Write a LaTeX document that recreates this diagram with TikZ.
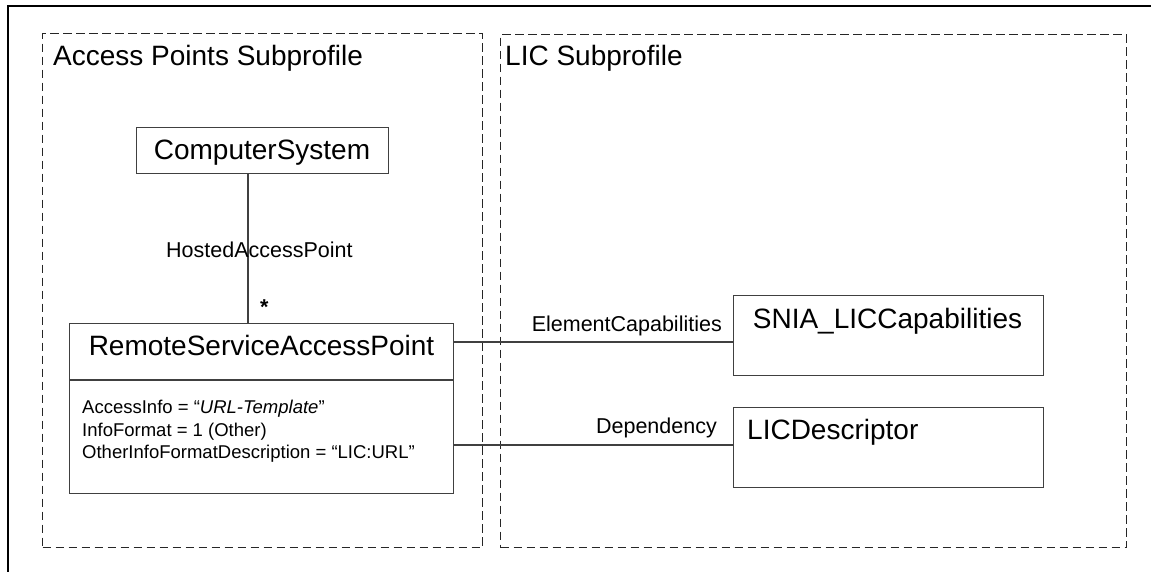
\documentclass[tikz,border=0pt]{standalone}
\usepackage{fontspec}
\setmainfont{Liberation Sans}
\begin{document}
\begin{tikzpicture}[x=1pt,y=-1pt,
  frame/.style={line width=2pt,black,line join=miter},
  group/.style={draw=black!85,line width=1.4pt,dash pattern=on 8.5pt off 4.5pt,anchor=north west,inner sep=0pt},
  cls/.style={draw=black!75,line width=1.2pt,inner sep=0pt,anchor=north west},
  big/.style={font=\fontsize{28}{33}\selectfont,inner sep=0pt},
  small/.style={font=\fontsize{21.5}{26}\selectfont,inner sep=0pt},
  attr/.style={font=\fontsize{18.5}{22.5}\selectfont,inner sep=0pt,anchor=base west},
  conn/.style={draw=black!75,line width=1.2pt}]
\useasboundingbox (0,0) rectangle (1151,571);
\fill[white] (0,0) rectangle (1151,571);
% outer frame
\draw[frame] (1152,6) -- (8,6) -- (8,572);
% groups
\node[group,minimum width=440pt,minimum height=514pt] (apgroup) at (42,33) {};
\node[group,minimum width=626pt,minimum height=513pt] (licgroup) at (500,34) {};
\node[big,anchor=base west] (aptitle) at (53,65) {Access Points Subprofile};
\node[big,anchor=base west] (lictitle) at (505,65) {LIC Subprofile};
% classes
\node[cls,minimum width=252pt,minimum height=46pt] (cs) at (136,127) {};
\node[big,anchor=base] (cstext) at (262,159) {ComputerSystem};
\node[cls,minimum width=384pt,minimum height=170pt] (rsap) at (69,323) {};
\node[big,anchor=base] (rsaptext) at (261.5,355) {RemoteServiceAccessPoint};
\coordinate (divy) at (0,380);
\draw[conn] (rsap.west |- divy) -- (rsap.east |- divy);
\node[attr] (attr1) at (82,413) {AccessInfo = “\textit{URL-Template}”};
\node[attr] (attr2) at (82,436) {InfoFormat = 1 (Other)};
\node[attr] (attr3) at (82,458) {OtherInfoFormatDescription = “LIC:URL”};
\node[cls,minimum width=310pt,minimum height=80pt] (snia) at (733,295) {};
\node[big,anchor=base] (sniatext) at (887.5,328) {SNIA\_LICCapabilities};
\node[cls,minimum width=310pt,minimum height=80pt] (licd) at (733,407) {};
\node[big,anchor=base west] (licdtext) at (747,439) {LICDescriptor};
% connectors
\coordinate (hx) at (248,0);
\draw[conn] (hx |- cs.south) -- (hx |- rsap.north);
\node[small,anchor=base west] (hap) at (166,257) {HostedAccessPoint};
\node[small,anchor=base west] (mult) at (260,314) {\textbf{*}};
\coordinate (ecy) at (0,342);
\draw[conn] (rsap.east |- ecy) -- (snia.west |- ecy);
\node[small,anchor=base east] (ec) at (722,331) {ElementCapabilities};
\coordinate (dpy) at (0,445);
\draw[conn] (rsap.east |- dpy) -- (licd.west |- dpy);
\node[small,anchor=base east] (dep) at (717,433) {Dependency};
\end{tikzpicture}
\end{document}
